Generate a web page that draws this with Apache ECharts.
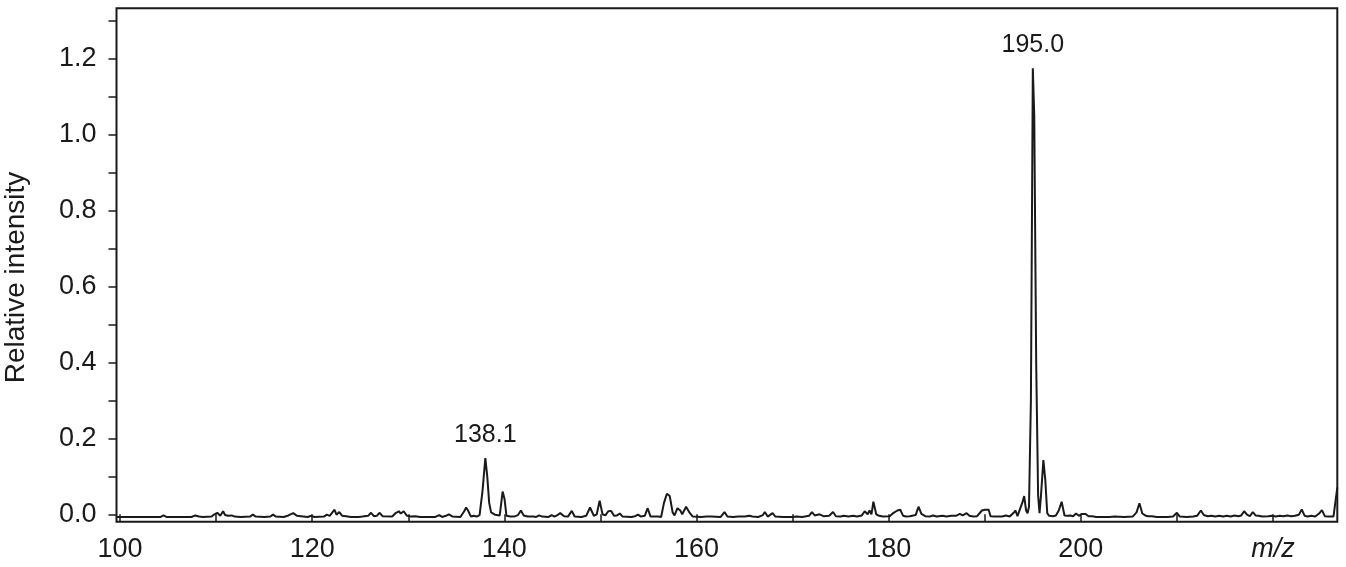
<!DOCTYPE html>
<html>
<head>
<meta charset="utf-8">
<script src="https://cdn.jsdelivr.net/npm/echarts@6/dist/echarts.min.js"></script>
<style>
html,body{margin:0;padding:0;background:#fff;}
#chart{width:1346px;height:567px;}
</style>
</head>
<body>
<div id="chart"></div>
<script>
// m/z positions of the spectrum trace
const mz = [99.6,104.2,104.5,104.8,107.4,107.8,108.2,108.6,109.5,109.8,110.1,110.4,110.7,110.9,111.2,111.6,111.9,112.5,
113.5,113.8,114.1,115.0,115.6,115.9,116.2,117.0,117.5,118.0,118.4,118.8,119.5,119.9,120.2,121.2,121.5,121.8,122.3,122.5,122.8,123.1,123.5,124.0,124.8,125.2,125.8,126.1,126.4,126.7,127.0,127.3,128.3,128.7,129.0,129.2,129.5,129.8,130.2,130.7,131.2,132.8,133.2,133.5,133.9,134.2,134.6,135.4,135.8,136.0,136.2,136.5,136.8,137.1,137.4,137.7,138.0,138.2,138.4,138.6,138.8,139.0,139.2,139.5,139.8,140.0,140.2,140.6,141.0,141.4,141.7,142.0,142.4,143.0,143.3,143.6,143.9,144.6,144.9,145.2,145.5,145.8,146.2,146.6,147.0,147.3,148.0,148.5,148.9,149.3,149.6,149.9,150.2,150.5,150.8,151.1,151.4,151.7,152.0,152.3,153.2,153.6,153.9,154.2,154.6,154.9,155.2,156.0,156.3,156.6,156.9,157.2,157.5,157.7,158.0,158.3,158.5,158.9,159.3,159.6,160.5,161.0,161.2,161.5,162.5,162.9,163.2,163.8,164.0,164.3,165.0,165.2,165.5,165.8,166.4,166.9,167.1,167.4,167.6,167.9,168.2,169.0,170.0,170.4,171.0,171.7,172.0,172.3,172.8,173.2,173.8,174.2,174.5,175.0,175.3,175.8,176.3,176.7,177.2,177.5,177.8,178.0,178.2,178.4,178.7,179.0,179.4,180.1,180.5,180.9,181.2,181.5,181.8,182.2,182.8,183.1,183.4,183.8,184.3,184.6,185.0,185.6,186.0,186.5,187.0,187.4,187.7,188.1,188.4,188.8,189.2,189.7,190.0,190.4,190.6,191.0,191.8,192.2,192.6,193.0,193.2,193.4,193.6,193.9,194.1,194.3,194.45,194.6,194.8,195.0,195.15,195.35,195.55,195.7,195.85,196.1,196.3,196.5,196.7,196.9,197.1,197.4,197.7,198.0,198.3,198.6,198.9,199.2,199.5,199.8,200.1,200.5,200.8,201.2,201.6,203.0,203.5,204.5,205.4,205.8,206.1,206.4,206.7,207.0,207.4,207.9,209.0,209.6,210.0,210.3,211.0,211.7,212.1,212.5,212.8,213.2,213.6,214.0,214.4,214.8,215.2,215.6,216.0,216.4,216.7,217.0,217.3,217.6,217.9,218.2,218.5,218.9,219.5,219.9,220.3,220.7,221.1,221.5,221.9,222.3,222.7,223.0,223.3,223.6,224.0,224.4,224.8,225.1,225.4,225.8,226.3,226.5,226.7];
// relative intensities at those m/z positions
const intensity = [-0.007,-0.007,-0.003,-0.007,-0.007,-0.003,-0.006,-0.007,-0.006,0.0,0.004,-0.004,0.008,-0.002,-0.004,-0.003,-0.006,-0.007,
-0.006,-0.001,-0.006,-0.007,-0.006,-0.001,-0.006,-0.007,-0.003,0.003,-0.004,-0.005,-0.007,-0.004,-0.007,-0.006,-0.001,-0.004,0.012,-0.001,0.006,-0.004,-0.005,-0.007,-0.007,-0.006,-0.004,0.004,-0.005,-0.004,0.004,-0.005,-0.006,0.004,0.008,0.002,0.008,-0.003,-0.006,-0.005,-0.007,-0.007,-0.002,-0.007,-0.004,0.0,-0.006,-0.007,0.008,0.018,0.01,-0.006,-0.004,-0.006,-0.002,0.06,0.148,0.1,0.03,0.005,0.004,-0.001,-0.004,-0.003,0.06,0.04,-0.004,-0.006,-0.006,-0.002,0.01,-0.003,-0.006,-0.006,-0.007,-0.003,-0.006,-0.007,-0.002,-0.006,-0.002,0.003,-0.005,-0.006,0.009,-0.006,-0.007,-0.004,0.018,-0.004,0.0,0.036,0.0,-0.003,0.008,0.009,-0.004,-0.003,0.002,-0.006,-0.007,-0.005,-0.001,-0.006,-0.004,0.016,-0.006,-0.006,-0.007,0.03,0.054,0.048,0.005,-0.003,0.016,0.01,0.0,0.02,0.003,-0.006,-0.007,-0.006,-0.002,-0.006,-0.007,0.006,-0.006,-0.007,-0.003,-0.006,-0.006,-0.003,-0.004,-0.006,-0.007,-0.002,0.006,-0.006,-0.003,0.003,-0.006,-0.007,-0.007,-0.006,-0.007,-0.004,0.006,-0.003,0.0,-0.005,-0.004,0.006,-0.005,-0.006,-0.004,-0.006,-0.004,-0.006,-0.003,0.008,0.0,0.01,0.0,0.033,0.0,-0.004,-0.006,-0.005,0.004,0.01,0.012,-0.004,-0.006,-0.005,-0.002,0.02,0.001,-0.005,-0.006,-0.003,-0.006,-0.004,-0.006,-0.004,-0.004,0.001,-0.003,0.003,-0.004,-0.006,-0.005,0.01,0.012,0.012,-0.005,-0.006,-0.006,-0.003,-0.006,0.004,0.01,-0.005,-0.006,0.03,0.048,0.01,0.003,0.02,0.3,1.175,1.05,0.4,0.05,0.003,0.05,0.143,0.09,0.003,-0.004,-0.003,-0.005,-0.003,0.01,0.033,-0.003,-0.004,-0.003,-0.005,0.002,-0.004,0.001,0.001,-0.005,-0.005,-0.007,-0.007,-0.006,-0.007,-0.006,0.005,0.029,0.002,-0.003,-0.005,-0.005,-0.007,-0.007,-0.006,0.004,-0.006,-0.007,-0.006,-0.004,0.01,-0.002,-0.005,-0.004,-0.006,-0.004,-0.006,-0.004,-0.006,-0.003,-0.005,-0.003,0.008,-0.001,-0.005,0.006,-0.003,-0.004,-0.006,-0.005,-0.004,-0.006,-0.004,-0.005,-0.003,-0.005,-0.004,-0.001,0.013,-0.004,-0.006,-0.004,-0.006,0.002,0.011,-0.005,-0.006,-0.006,-0.004,0.07];
// annotated peaks
const peakLabels = ['138.1', '195.0'];
const peakMz = [138.0, 195.0];
const peakValue = [0.148, 1.175];
// axis tick labels
const xTickLabels = ['100','120','140','160','180','200'];
const xAxisTitle = 'm/z';
const yTickLabels = ['0.0','0.2','0.4','0.6','0.8','1.0','1.2'];
const yAxisTitle = 'Relative intensity';

const FONT = "'Liberation Sans', Arial, Helvetica, sans-serif";
const INK = '#1a1a1a';

const chart = echarts.init(document.getElementById('chart'), null, {renderer: 'canvas'});
const seriesData = mz.map((m, i) => [m, intensity[i]]);

const option = {
  animation: false,
  backgroundColor: '#ffffff',
  grid: [
    {left: 116.5, top: 8.3, width: 1220.8, height: 513.4, show: true, borderColor: INK, borderWidth: 2, backgroundColor: 'transparent'},
    {left: 120, top: 20.7, width: 1153, height: 493.6}
  ],
  xAxis: [
    {type: 'value', gridIndex: 0, min: 99.6, max: 226.7, show: false},
    {type: 'value', gridIndex: 1, min: 100, max: 220, interval: 10, position: 'bottom', offset: 7.4,
      axisLine: {show: false}, splitLine: {show: false},
      axisTick: {show: true, length: 7, inside: false, lineStyle: {color: INK, width: 1.5}},
      axisLabel: {
        show: true, interval: 0, margin: 14, color: INK, fontSize: 27, fontFamily: FONT,
        formatter: function (v) {
          const r = Math.round(v);
          if (r === 220) return '{i|' + xAxisTitle + '}';
          const s = String(r);
          return xTickLabels.indexOf(s) >= 0 ? s : '';
        },
        rich: {i: {fontStyle: 'italic', fontSize: 27, fontFamily: FONT, color: INK}}
      }
    }
  ],
  yAxis: [
    {type: 'value', gridIndex: 0, min: -0.0195, max: 1.333, show: false},
    {type: 'value', gridIndex: 1, min: 0, max: 1.3, interval: 0.1, position: 'left', offset: 3.5,
      axisLine: {show: false}, splitLine: {show: false},
      axisTick: {show: true, length: 8, inside: false, lineStyle: {color: INK, width: 1.5}},
      axisLabel: {
        show: true, interval: 0, margin: 20, color: INK, fontSize: 27, fontFamily: FONT,
        formatter: function (v) {
          const s = v.toFixed(1);
          return yTickLabels.indexOf(s) >= 0 ? s : '';
        }
      }
    }
  ],
  graphic: [
    {type: 'text', x: 16, y: 277.5, rotation: Math.PI / 2,
      style: {text: yAxisTitle, fill: INK, font: '28px ' + FONT, textAlign: 'center', textVerticalAlign: 'middle'}}
  ],
  series: [
    {
      type: 'line', xAxisIndex: 0, yAxisIndex: 0, data: seriesData,
      showSymbol: false, symbol: 'none', clip: true,
      lineStyle: {color: INK, width: 2},
      markPoint: {
        symbol: 'circle', symbolSize: 0.01,
        itemStyle: {color: 'transparent'},
        label: {show: true, position: 'top', distance: 11, color: INK, fontSize: 25, fontFamily: FONT,
          formatter: function (p) { return p.name; }},
        data: peakLabels.map((t, i) => ({name: t, coord: [peakMz[i], peakValue[i]]}))
      }
    }
  ]
};
chart.setOption(option);
</script>
</body>
</html>
